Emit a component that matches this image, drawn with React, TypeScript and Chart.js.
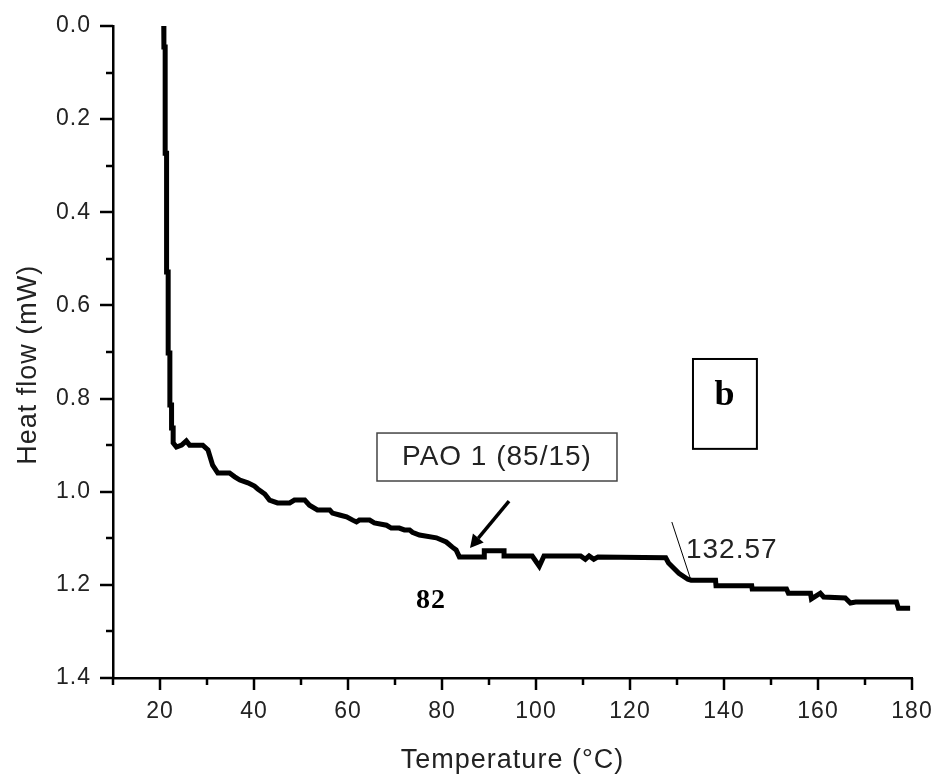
import { useEffect, useRef } from 'react';
import { Chart, registerables } from 'chart.js';

Chart.register(...registerables);

// ---- data ----
const temperature = [
  20.8, 20.83, 21.1, 21.1, 21.4, 21.4, 21.74, 21.74, 22.1, 22.1, 22.46, 22.46, 22.8, 22.8,
  23.5, 24.6, 25.6, 26.3, 29.1, 30.2, 31.2, 32.3, 34.8, 35.9, 37.0, 38.7, 40.1, 40.8,
  42.3, 43.3, 45.0, 47.6, 48.6, 50.8, 51.8, 53.5, 56.1, 56.7, 58.2, 59.7, 61.0, 61.8,
  62.4, 64.6, 65.6, 68.2, 69.2, 70.9, 72.0, 73.1, 73.7, 75.2, 78.8, 80.9, 82.2, 83.0,
  83.7, 89.0, 89.0, 93.2, 93.2, 99.2, 100.7, 101.7, 109.5, 110.5, 111.3, 112.3, 113.2,
  127.6, 128.2, 130.4, 132.3, 133.0, 138.2, 138.3, 145.9, 146.0, 153.3, 153.7, 158.4,
  158.6, 160.5, 161.2, 165.8, 166.9, 168.0, 176.7, 177.1, 179.6,
];
const heatFlow = [
  0.0, 0.045, 0.045, 0.273, 0.273, 0.528, 0.528, 0.702, 0.702, 0.814, 0.814, 0.863, 0.863, 0.895,
  0.904, 0.9, 0.891, 0.9, 0.9, 0.91, 0.943, 0.96, 0.96, 0.968, 0.975, 0.981, 0.988, 0.994,
  1.005, 1.018, 1.024, 1.024, 1.018, 1.018, 1.029, 1.039, 1.039, 1.046, 1.05, 1.054, 1.061, 1.065,
  1.061, 1.061, 1.067, 1.072, 1.078, 1.078, 1.082, 1.082, 1.087, 1.093, 1.099, 1.108, 1.119, 1.125,
  1.14, 1.14, 1.127, 1.127, 1.138, 1.138, 1.16, 1.138, 1.138, 1.145, 1.138, 1.145, 1.14,
  1.142, 1.153, 1.175, 1.188, 1.19, 1.19, 1.202, 1.202, 1.209, 1.209, 1.218, 1.218,
  1.23, 1.218, 1.226, 1.228, 1.239, 1.237, 1.237, 1.25, 1.25,
];

const xMajorTicks = [20, 40, 60, 80, 100, 120, 140, 160, 180];
const xMinorTicks = [10, 30, 50, 70, 90, 110, 130, 150, 170];
const yMajorTicks = [0, 0.2, 0.4, 0.6, 0.8, 1.0, 1.2, 1.4];
const yMinorTicks = [0.1, 0.3, 0.5, 0.7, 0.9, 1.1, 1.3];

const xTitle = 'Temperature (°C)';
const yTitle = 'Heat flow (mW)   ';
const seriesLabel = 'PAO 1 (85/15)';
const peakLabel = '82';
const onsetLabel = '132.57';
const panelLabel = 'b';

const SANS = '"Liberation Sans", Arial, sans-serif';
const SERIF = '"Liberation Serif", "Times New Roman", serif';

const zeroPadding = (s: any) => {
  s.paddingTop = 0;
  s.paddingBottom = 0;
  s.paddingLeft = 0;
  s.paddingRight = 0;
};

const decorPlugin = {
  id: 'decor',
  beforeDraw(chart: any) {
    try { (chart.ctx as any).letterSpacing = '1px'; } catch (e) { /* ignore */ }
  },
  afterDraw(chart: any) {
    const ctx = chart.ctx as CanvasRenderingContext2D;
    const xs = chart.scales.x;
    const ys = chart.scales.y;
    const area = chart.chartArea;
    const X = (v: number) => xs.getPixelForValue(v);
    const Y = (v: number) => ys.getPixelForValue(v);

    ctx.save();
    // tick marks (outward)
    ctx.strokeStyle = '#000';
    ctx.lineWidth = 2.5;
    ctx.lineCap = 'butt';
    const xt = (vals: number[], len: number) => {
      vals.forEach((v) => {
        const p = Math.round(X(v));
        ctx.beginPath();
        ctx.moveTo(p, area.bottom);
        ctx.lineTo(p, area.bottom + len);
        ctx.stroke();
      });
    };
    const yt = (vals: number[], len: number) => {
      vals.forEach((v) => {
        const p = Math.round(Y(v));
        ctx.beginPath();
        ctx.moveTo(area.left, p);
        ctx.lineTo(area.left - len, p);
        ctx.stroke();
      });
    };
    xt(xMajorTicks, 12);
    xt(xMinorTicks, 7);
    yt(yMajorTicks, 13);
    yt(yMinorTicks, 7);

    // PAO label box
    ctx.strokeStyle = '#444';
    ctx.lineWidth = 1.5;
    const bx1 = X(66.17), bx2 = X(117.23), by1 = Y(0.874), by2 = Y(0.977);
    ctx.strokeRect(bx1, by1, bx2 - bx1, by2 - by1);
    ctx.fillStyle = '#222';
    ctx.font = `28px ${SANS}`;
    ctx.textAlign = 'center';
    ctx.textBaseline = 'alphabetic';
    ctx.fillText(seriesLabel, (bx1 + bx2) / 2, Y(0.943));

    // arrow
    const ax1 = X(94.26), ay1 = Y(1.02), ax2 = X(85.96), ay2 = Y(1.121);
    const ang = Math.atan2(ay2 - ay1, ax2 - ax1);
    const head = 13;
    const bx = ax2 - head * Math.cos(ang), by = ay2 - head * Math.sin(ang);
    ctx.strokeStyle = '#000';
    ctx.lineWidth = 3.5;
    ctx.beginPath();
    ctx.moveTo(ax1, ay1);
    ctx.lineTo(bx, by);
    ctx.stroke();
    ctx.fillStyle = '#000';
    ctx.beginPath();
    ctx.moveTo(ax2, ay2);
    ctx.lineTo(bx + 7 * Math.sin(ang), by - 7 * Math.cos(ang));
    ctx.lineTo(bx - 7 * Math.sin(ang), by + 7 * Math.cos(ang));
    ctx.closePath();
    ctx.fill();

    // "82"
    ctx.fillStyle = '#000';
    ctx.font = `bold 28px ${SERIF}`;
    ctx.textAlign = 'center';
    ctx.fillText(peakLabel, X(77.66), Y(1.25));

    // "b" panel box
    ctx.strokeStyle = '#000';
    ctx.lineWidth = 2;
    const px1 = X(133.4), px2 = X(147.0), py1 = Y(0.715), py2 = Y(0.908);
    ctx.strokeRect(px1, py1, px2 - px1, py2 - py1);
    ctx.font = `bold 36px ${SERIF}`;
    ctx.fillText(panelLabel, (px1 + px2) / 2, Y(0.814));

    // 132.57 label with leader line
    ctx.lineWidth = 1;
    ctx.beginPath();
    ctx.moveTo(X(128.9), Y(1.065));
    ctx.lineTo(X(132.8), Y(1.185));
    ctx.stroke();
    ctx.fillStyle = '#222';
    ctx.font = `28px ${SANS}`;
    ctx.textAlign = 'left';
    ctx.fillText(onsetLabel, X(131.9), Y(1.142));
    ctx.restore();
  },
};

export default function App() {
  const ref = useRef<HTMLCanvasElement | null>(null);
  useEffect(() => {
    if (!ref.current) return;
    const points = temperature.map((t, i) => ({ x: t, y: heatFlow[i] }));
    const chart = new Chart(ref.current, {
      type: 'line',
      data: {
        datasets: [
          {
            label: seriesLabel,
            data: points,
            borderColor: '#000',
            borderWidth: 5,
            pointRadius: 0,
            tension: 0,
            fill: false,
          },
        ],
      },
      options: {
        animation: false,
        responsive: false,
        events: [],
        layout: { padding: { left: 0, right: 24, top: 26, bottom: 0 } },
        plugins: { legend: { display: false }, tooltip: { enabled: false } },
        scales: {
          x: {
            type: 'linear',
            min: 10,
            max: 180,
            afterFit: (s: any) => { s.height = 104; zeroPadding(s); },
            grid: { display: true, drawOnChartArea: false, drawTicks: false },
            border: { display: true, color: '#000', width: 2.5 },
            ticks: {
              stepSize: 20,
              includeBounds: false,
              padding: 20,
              color: '#222',
              font: { family: SANS, size: 23 },
              maxRotation: 0,
              autoSkip: false,
              callback: (v: any) => (xMajorTicks.includes(Number(v)) ? String(v) : ''),
            },
            title: {
              display: true,
              text: xTitle,
              color: '#222',
              font: { family: SANS, size: 27 },
              padding: { top: 0, bottom: 5 },
            },
          },
          y: {
            type: 'linear',
            min: 0,
            max: 1.4,
            reverse: true,
            afterFit: (s: any) => { s.width = 113; zeroPadding(s); },
            grid: { display: true, drawOnChartArea: false, drawTicks: false },
            border: { display: true, color: '#000', width: 2.5 },
            ticks: {
              stepSize: 0.2,
              padding: 22,
              color: '#222',
              font: { family: SANS, size: 23 },
              autoSkip: false,
              callback: (v: any) => Number(v).toFixed(1),
            },
            title: {
              display: true,
              text: yTitle,
              color: '#222',
              font: { family: SANS, size: 27 },
              padding: { top: 12, bottom: 0 },
            },
          },
        },
      },
      plugins: [decorPlugin],
    });
    return () => chart.destroy();
  }, []);

  return (
    <div style={{ position: 'fixed', left: 0, top: 0, width: 936, height: 782, background: '#fff' }}>
      <canvas ref={ref} width={936} height={782} />
    </div>
  );
}
